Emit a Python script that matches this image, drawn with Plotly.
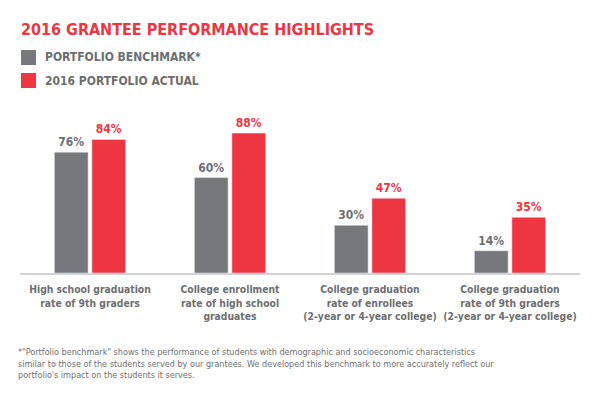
import plotly.graph_objects as go

categories = ["High school graduation<br>rate of 9th graders",
              "College enrollment<br>rate of high school<br>graduates",
              "College graduation<br>rate of enrollees<br>(2-year or 4-year college)",
              "College graduation<br>rate of 9th graders<br>(2-year or 4-year college)"]
benchmark = [76, 60, 30, 14]
actual = [84, 88, 47, 35]
series_names = ["PORTFOLIO BENCHMARK*", "2016 PORTFOLIO ACTUAL"]

GRAY = "#77787b"
RED = "#ee3542"
TXT = "#6d6e71"
FONT = "Liberation Sans Narrow, DejaVu Sans Condensed, Roboto, sans-serif"

# page has an 8px body margin: figure is 592x391 placed at (8, 8)
OFF = 8
W, H = 600 - OFF, 399 - OFF
L, R, T, B = 20 - OFF, 600 - 580, 113 - OFF, 399 - 273
PW, PH = W - L - R, H - T - B

def px(x):  # page x -> paper
    return (x - OFF - L) / PW

def py(y):  # page y -> paper
    return (H - B - (y - OFF)) / PH

fig = go.Figure()
fig.add_bar(x=list(range(4)), y=benchmark, name=series_names[0], marker_color=GRAY,
            texttemplate="<b>%{y}%</b>", textposition="outside",
            textfont=dict(color=TXT, size=12, family=FONT), cliponaxis=False)
fig.add_bar(x=list(range(4)), y=actual, name=series_names[1], marker_color=RED,
            texttemplate="<b>%{y}%</b>", textposition="outside",
            textfont=dict(color=RED, size=12, family=FONT), cliponaxis=False)

fig.update_layout(
    width=W, height=H, paper_bgcolor="white", plot_bgcolor="white",
    margin=dict(l=L, r=R, t=T, b=B, autoexpand=False),
    barmode="group", bargap=0.464, bargroupgap=0.1, showlegend=False,
    font=dict(family=FONT, color=TXT),
)
fig.update_xaxes(range=[-0.5, 3.5], tickvals=list(range(4)),
                 ticktext=["<b>" + c.replace("<br>", "</b><br><b>") + "</b>" for c in categories],
                 tickfont=dict(size=10.3, color=TXT, family=FONT), tickangle=0, automargin=False,
                 ticklabelstandoff=6,
                 showline=True, linecolor="#d1d3d4", linewidth=2, ticks="", showgrid=False,
                 zeroline=False)
fig.update_yaxes(range=[0, PH / 1.59], visible=False, showgrid=False, zeroline=False)

fig.add_annotation(xref="paper", yref="paper", x=px(19), y=py(29), xanchor="left", yanchor="middle",
                   text="<b>2016 GRANTEE PERFORMANCE HIGHLIGHTS</b>", showarrow=False,
                   font=dict(size=16, color=RED, family=FONT))
for nm, col, yc in [(series_names[0], GRAY, 57.5), (series_names[1], RED, 80.5)]:
    fig.add_shape(type="rect", xref="paper", yref="paper",
                  x0=px(21), x1=px(36), y0=py(yc - 7.5), y1=py(yc + 7.5),
                  fillcolor=col, line_width=0)
    fig.add_annotation(xref="paper", yref="paper", x=px(43), y=py(yc), xanchor="left", yanchor="middle",
                       text="<b>" + nm + "</b>", showarrow=False, font=dict(size=12, color=TXT, family=FONT))

fig.add_annotation(xref="paper", yref="paper", x=px(16), y=py(345), xanchor="left", yanchor="top",
                   align="left", showarrow=False,
                   text="*\"Portfolio benchmark\" shows the performance of students with demographic and socioeconomic characteristics<br>"
                        "similar to those of the students served by our grantees. We developed this benchmark to more accurately reflect our<br>"
                        "portfolio's impact on the students it serves.",
                   font=dict(size=9, color=TXT, family=FONT))

fig.write_html("out.html")
